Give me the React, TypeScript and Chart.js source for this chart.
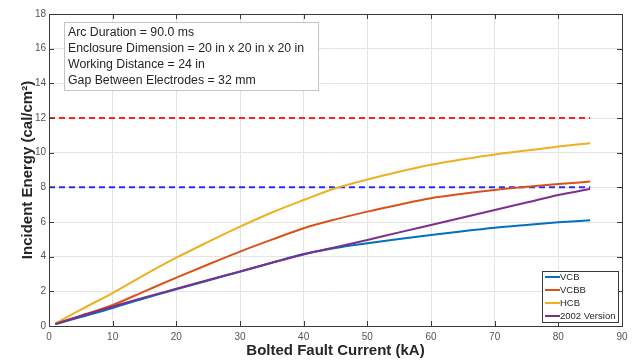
import React, { useEffect, useRef } from "react";
import { Chart, registerables } from "chart.js";

Chart.register(...registerables);

// ---------- data ----------
const currentKA = [1, 5, 10, 15, 20, 25, 30, 35, 40, 45, 50, 55, 60, 65, 70, 75, 80, 85];
const vcb = [0.1, 0.52, 1.04, 1.6, 2.12, 2.63, 3.13, 3.65, 4.15, 4.5, 4.77, 5.02, 5.25, 5.47, 5.67, 5.83, 5.98, 6.1];
const vcbb = [0.12, 0.6, 1.21, 2.0, 2.79, 3.55, 4.29, 4.98, 5.64, 6.15, 6.6, 7.0, 7.37, 7.63, 7.85, 8.03, 8.19, 8.33];
const hcb = [0.15, 0.95, 1.9, 2.95, 3.94, 4.85, 5.73, 6.55, 7.27, 7.95, 8.45, 8.9, 9.3, 9.62, 9.9, 10.12, 10.35, 10.55];
const v2002 = [0.12, 0.58, 1.12, 1.65, 2.15, 2.65, 3.15, 3.65, 4.13, 4.55, 4.96, 5.4, 5.83, 6.26, 6.69, 7.12, 7.56, 7.9];
const limitX = [0, 85];
const limitRed = [12, 12];
const limitBlue = [8, 8];
const xTickValues = [0, 10, 20, 30, 40, 50, 60, 70, 80, 90];
const yTickValues = [0, 2, 4, 6, 8, 10, 12, 14, 16, 18];
const seriesNames = ["VCB", "VCBB", "HCB", "2002 Version"];
const seriesColors = ["#0072BD", "#D95319", "#EDB120", "#7E2F8E"];
const infoLines = [
  "Arc Duration = 90.0 ms",
  "Enclosure Dimension = 20 in x 20 in x 20 in",
  "Working Distance = 24 in",
  "Gap Between Electrodes = 32 mm",
];
const xTitle = "Bolted Fault Current (kA)";
const yTitle = "Incident Energy (cal/cm\u00B2)";

const FONT = "'Liberation Sans', Arial, Helvetica, sans-serif";

const pts = (xs: number[], ys: number[]) => xs.map((x, i) => ({ x, y: ys[i] }));

const overlayPlugin = {
  id: "overlay",
  afterDraw(chart: any) {
    const { ctx, chartArea } = chart;
    const xs = chart.scales.x;
    const ys = chart.scales.y;
    const { left, right, top, bottom } = chartArea;
    ctx.save();
    // box border
    ctx.strokeStyle = "#3a3a3a";
    ctx.lineWidth = 1;
    ctx.strokeRect(Math.round(left) + 0.5, Math.round(top) + 0.5, Math.round(right - left), Math.round(bottom - top));
    // inward ticks
    const tl = 5;
    ctx.beginPath();
    xTickValues.forEach((v) => {
      const px = Math.round(xs.getPixelForValue(v)) + 0.5;
      ctx.moveTo(px, bottom);
      ctx.lineTo(px, bottom - tl);
      ctx.moveTo(px, top);
      ctx.lineTo(px, top + tl);
    });
    yTickValues.forEach((v) => {
      const py = Math.round(ys.getPixelForValue(v)) + 0.5;
      ctx.moveTo(left, py);
      ctx.lineTo(left + tl, py);
      ctx.moveTo(right, py);
      ctx.lineTo(right - tl, py);
    });
    ctx.stroke();

    // info text box
    const bx = 64, by = 22, bw = 254, bh = 68;
    ctx.fillStyle = "#ffffff";
    ctx.fillRect(bx, by, bw, bh);
    ctx.strokeStyle = "#c4c4c4";
    ctx.strokeRect(bx + 0.5, by + 0.5, bw, bh);
    ctx.fillStyle = "#262626";
    ctx.font = `12.3px ${FONT}`;
    ctx.textBaseline = "middle";
    ctx.textAlign = "left";
    infoLines.forEach((t, i) => {
      ctx.fillText(t, 68, 32.5 + i * 16.1);
    });

    // legend
    const lx = 542, ly = 271, lw = 76, lh = 51;
    ctx.fillStyle = "#ffffff";
    ctx.fillRect(lx, ly, lw, lh);
    ctx.strokeStyle = "#3a3a3a";
    ctx.lineWidth = 1;
    ctx.strokeRect(lx + 0.5, ly + 0.5, lw, lh);
    ctx.font = `9.5px ${FONT}`;
    seriesNames.forEach((name, i) => {
      const ry = 277 + i * 13;
      ctx.strokeStyle = seriesColors[i];
      ctx.lineWidth = 2;
      ctx.beginPath();
      ctx.moveTo(lx + 3, ry);
      ctx.lineTo(lx + 18, ry);
      ctx.stroke();
      ctx.fillStyle = "#262626";
      ctx.fillText(name, lx + 18, ry + 0.5);
    });
    ctx.restore();
  },
};

export default function App() {
  const ref = useRef<HTMLCanvasElement | null>(null);
  useEffect(() => {
    document.body.style.margin = "0";
    if (!ref.current) return;
    const lineDs = (label: string, data: number[], color: string) => ({
      label,
      data: pts(currentKA, data),
      borderColor: color,
      backgroundColor: color,
      borderWidth: 2,
      pointRadius: 0,
      tension: 0.4,
      cubicInterpolationMode: "monotone" as const,
      fill: false,
    });
    const chart = new Chart(ref.current, {
      type: "line",
      data: {
        datasets: [
          lineDs(seriesNames[3], v2002, seriesColors[3]),
          lineDs(seriesNames[2], hcb, seriesColors[2]),
          lineDs(seriesNames[1], vcbb, seriesColors[1]),
          lineDs(seriesNames[0], vcb, seriesColors[0]),
          {
            label: "Limit 12",
            data: pts(limitX, limitRed),
            borderColor: "#ff2020",
            borderWidth: 2,
            borderDash: [6, 4],
            pointRadius: 0,
            fill: false,
          },
          {
            label: "Limit 8",
            data: pts(limitX, limitBlue),
            borderColor: "#2a2aff",
            borderWidth: 2,
            borderDash: [6, 4],
            pointRadius: 0,
            fill: false,
          },
        ],
      },
      options: {
        animation: false,
        responsive: false,
        parsing: false as any,
        layout: { padding: { top: 14, right: 14, left: 0, bottom: 0 } },
        plugins: {
          legend: { display: false },
          tooltip: { enabled: false },
        },
        scales: {
          x: {
            type: "linear",
            min: 0,
            max: 90,
            afterBuildTicks: (s: any) => {
              s.ticks = xTickValues.map((v) => ({ value: v }));
            },
            ticks: {
              padding: 5,
              color: "#555555",
              font: { family: FONT, size: 10 },
            },
            grid: { color: "#e4e4e4", drawTicks: false },
            border: { display: false },
            title: {
              display: true,
              text: xTitle,
              color: "#262626",
              font: { family: FONT, size: 15, weight: "bold" },
              padding: { top: 0, bottom: 0 },
            },
            afterFit: (s: any) => {
              s.height = 34;
            },
          },
          y: {
            type: "linear",
            min: 0,
            max: 18,
            afterBuildTicks: (s: any) => {
              s.ticks = yTickValues.map((v) => ({ value: v }));
            },
            ticks: {
              padding: 3,
              color: "#555555",
              font: { family: FONT, size: 10 },
            },
            grid: { color: "#e4e4e4", drawTicks: false },
            border: { display: false },
            title: {
              display: true,
              text: yTitle,
              color: "#262626",
              font: { family: FONT, size: 15, weight: "bold" },
              padding: { top: 19, bottom: 0 },
            },
            afterFit: (s: any) => {
              s.width = 49;
            },
          },
        },
      },
      plugins: [overlayPlugin],
    });
    return () => chart.destroy();
  }, []);
  return (
    <div style={{ position: "fixed", left: 0, top: 0, width: 636, height: 360, background: "#fff" }}>
      <canvas ref={ref} width={636} height={360} />
    </div>
  );
}
